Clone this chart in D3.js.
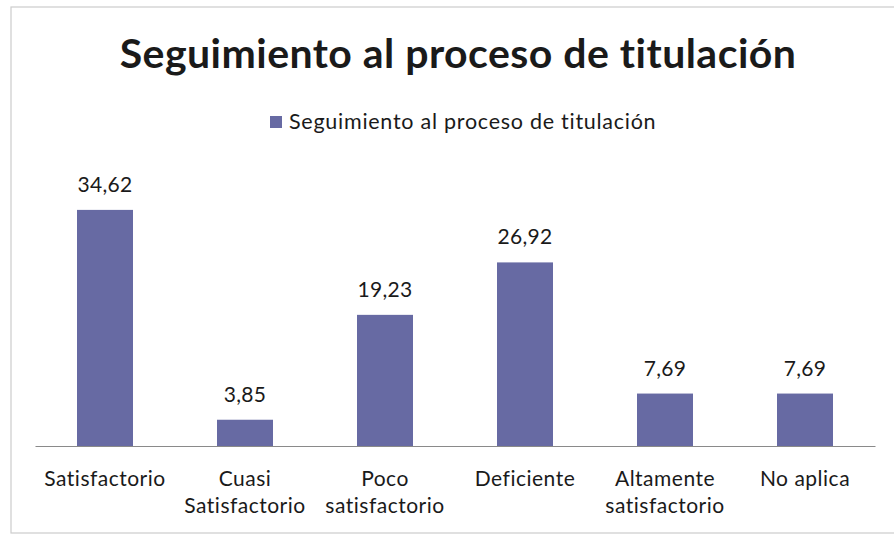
<!DOCTYPE html>
<html>
<head>
<meta charset="utf-8">
<script src="https://cdn.jsdelivr.net/npm/d3@7"></script>
<style>
  body { margin: 0; background: #fff; }
  text { font-family: Lato, "Open Sans", sans-serif; fill: #1a1a1a; }
</style>
</head>
<body>
<div id="chart"></div>
<script>
// Data
var categories = ["Satisfactorio", "Cuasi Satisfactorio", "Poco satisfactorio", "Deficiente", "Altamente satisfactorio", "No aplica"];
var labelLines = [["Satisfactorio"], ["Cuasi", "Satisfactorio"], ["Poco", "satisfactorio"], ["Deficiente"], ["Altamente", "satisfactorio"], ["No aplica"]];
var values = [34.62, 3.85, 19.23, 26.92, 7.69, 7.69];
var seriesName = "Seguimiento al proceso de titulación";
var titleText = "Seguimiento al proceso de titulación";

var svgWidth = 894;
var svgHeight = 538;
var barColor = "#676aa3";

var svg = d3.select("#chart")
  .append("svg")
  .attr("width", svgWidth)
  .attr("height", svgHeight);

// chart frame
svg.append("rect")
  .attr("x", 11)
  .attr("y", 7)
  .attr("width", 890)
  .attr("height", 526)
  .attr("fill", "none")
  .attr("stroke", "#cccccc")
  .attr("stroke-width", 1.2);

// stretch a text to a given width with letter spacing
function fitWidth(sel, target) {
  var txt = sel.text();
  var w = sel.node().getComputedTextLength();
  sel.attr("letter-spacing", (target - w) / (txt.length - 1));
}

// title
var title = svg.append("text")
  .attr("x", 458)
  .attr("y", 68)
  .attr("text-anchor", "middle")
  .attr("font-weight", "bold")
  .attr("font-size", 41)
  .text(titleText);
fitWidth(title, 677);

// legend
var legend = svg.append("g").attr("transform", "translate(270, 116)");
legend.append("rect")
  .attr("width", 12)
  .attr("height", 12)
  .attr("fill", barColor);
var legText = legend.append("text")
  .attr("x", 19)
  .attr("y", 13)
  .attr("font-size", 21.5)
  .text(seriesName);
fitWidth(legText, 367);

// scales
var x = d3.scaleBand()
  .domain(categories)
  .range([35, 875])
  .paddingInner(0.6)
  .paddingOuter(0.3);

var y = d3.scaleLinear()
  .domain([0, 40])
  .range([446, 446 - 40 * 6.82]);

// bars
svg.selectAll(".bar")
  .data(values)
  .enter()
  .append("rect")
  .attr("class", "bar")
  .attr("x", (d, i) => x(categories[i]))
  .attr("y", d => y(d))
  .attr("width", x.bandwidth())
  .attr("height", d => y(0) - y(d))
  .attr("fill", barColor);

// value labels
svg.selectAll(".val")
  .data(values)
  .enter()
  .append("text")
  .attr("class", "val")
  .attr("x", (d, i) => x(categories[i]) + x.bandwidth() / 2)
  .attr("y", d => y(d) - 18)
  .attr("text-anchor", "middle")
  .attr("font-size", 21)
  .attr("letter-spacing", 0.3)
  .text(d => d3.format(".2f")(d).replace(".", ","));

// x axis
var xAxis = svg.append("g")
  .attr("transform", "translate(0, " + y(0) + ")")
  .call(d3.axisBottom(x).tickSize(0).tickFormat(""));
xAxis.select(".domain")
  .attr("stroke", "#8a8a8a")
  .attr("stroke-width", 1.2);

// category labels
categories.forEach(function (c, i) {
  var t = svg.append("text")
    .attr("x", x(c) + x.bandwidth() / 2)
    .attr("y", 486)
    .attr("text-anchor", "middle")
    .attr("font-size", 21)
    .attr("letter-spacing", 0.5);
  labelLines[i].forEach(function (line, j) {
    t.append("tspan")
      .attr("x", x(c) + x.bandwidth() / 2)
      .attr("dy", j === 0 ? 0 : 27)
      .text(line);
  });
});
</script>
</body>
</html>
